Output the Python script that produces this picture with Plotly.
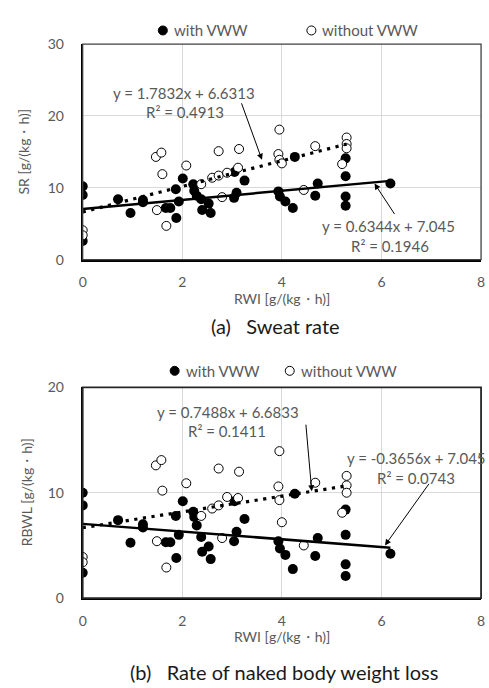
import plotly.graph_objects as go

# RWI of each trial, shared by both panels
rwi_with = [0, 0, 0, 0.71, 0.96, 1.21, 1.21, 1.67, 1.76, 1.88, 1.87, 1.93, 2.01, 2.22, 2.24,
            2.29, 2.38, 2.40, 2.53, 2.57, 3.09, 3.04, 3.25, 3.05, 3.93, 3.96, 4.07, 4.22,
            4.26, 4.72, 4.67, 5.28, 5.28, 5.28, 5.28, 6.18]
rwi_without = [0, 0, 1.47, 1.58, 1.60, 2.08, 1.49, 1.68, 2.38, 2.73, 3.14, 2.80, 2.60, 2.73,
               2.90, 3.12, 3.95, 3.93, 3.95, 4.00, 4.67, 5.30, 5.30, 5.30, 5.21, 4.44]

# (a) sweat rate
sr_with = [10.2, 9.0, 2.6, 8.4, 6.5, 8.3, 8.0, 7.2, 7.2, 5.8, 9.8, 8.1, 11.3, 10.5, 9.6,
           8.9, 8.4, 6.9, 7.8, 6.5, 9.3, 8.6, 11.0, 12.2, 9.5, 8.8, 8.1, 7.2,
           14.3, 10.6, 8.9, 14.1, 11.6, 8.8, 7.5, 10.6]
sr_without = [4.1, 3.4, 14.3, 14.9, 11.9, 13.1, 6.9, 4.7, 10.5, 15.1, 15.4, 8.7, 11.4, 11.7,
              12.1, 12.8, 18.1, 14.7, 13.9, 13.4, 15.8, 17.0, 16.1, 15.5, 13.3, 9.7]

# (b) rate of naked body weight loss
rbwl_with = [10.0, 8.8, 2.4, 7.4, 5.25, 7.0, 6.7, 5.3, 5.3, 3.8, 7.8, 6.0, 9.2, 8.2, 7.7,
             6.9, 5.8, 4.4, 4.9, 3.7, 6.3, 5.4, 7.5, 9.2, 5.4, 4.7, 4.1, 2.75,
             9.9, 5.7, 4.0, 8.4, 6.0, 3.2, 2.1, 4.2]
rbwl_without = [3.9, 3.4, 12.6, 13.1, 10.2, 10.9, 5.4, 2.9, 7.8, 12.3, 12.0, 5.7, 8.5, 8.8,
                9.6, 9.5, 13.95, 10.6, 9.3, 7.2, 10.95, 11.6, 10.7, 10.0, 8.1, 5.0]

# linear trendlines (slope, intercept, R²)
fit_sr_with = (0.6344, 7.045, 0.1946)
fit_sr_without = (1.7832, 6.6313, 0.4913)
fit_rbwl_with = (-0.3656, 7.045, 0.0743)
fit_rbwl_without = (0.7488, 6.6833, 0.1411)

x_ticks = [0, 2, 4, 6, 8]
y_ticks_a = [0, 10, 20, 30]
y_ticks_b = [0, 10, 20]

W, H = 489, 688
FONT = "Lato, 'Open Sans', sans-serif"
GREY = "#595959"


def px(x):
    return x / W


def py(y):
    return 1 - y / H


def eq_text(m, b):
    return f"y = {m}x + {b}"


fig = go.Figure()


def add_panel(xa, ya, ys_with, ys_without, fit_with, fit_without):
    fig.add_trace(go.Scatter(x=rwi_with, y=ys_with, mode="markers", xaxis=xa, yaxis=ya,
                             marker=dict(size=10, color="black", line=dict(width=0)),
                             showlegend=False))
    fig.add_trace(go.Scatter(x=rwi_without, y=ys_without, mode="markers", xaxis=xa, yaxis=ya,
                             marker=dict(size=9, color="white", line=dict(width=1, color="black")),
                             showlegend=False))
    m, b, _ = fit_without
    xs = [min(rwi_without), max(rwi_without)]
    fig.add_trace(go.Scatter(x=xs, y=[m * v + b for v in xs], mode="lines", xaxis=xa, yaxis=ya,
                             line=dict(color="black", width=3.2, dash="3.2px,5.5px"),
                             showlegend=False))
    m, b, _ = fit_with
    xs = [min(rwi_with), max(rwi_with)]
    fig.add_trace(go.Scatter(x=xs, y=[m * v + b for v in xs], mode="lines", xaxis=xa, yaxis=ya,
                             line=dict(color="black", width=2.5),
                             showlegend=False))


add_panel("x", "y", sr_with, sr_without, fit_sr_with, fit_sr_without)
add_panel("x2", "y2", rbwl_with, rbwl_without, fit_rbwl_with, fit_rbwl_without)

x_dom = [px(80), px(485)]
axis_common = dict(showgrid=True, gridcolor="#d9d9d9", gridwidth=1, zeroline=False,
                   showline=True, linecolor="black", linewidth=2, ticks="",
                   tickfont=dict(family=FONT, size=14, color=GREY))

fig.update_layout(
    width=W, height=H, margin=dict(l=0, r=0, t=0, b=0),
    paper_bgcolor="white", plot_bgcolor="white",
    xaxis=dict(domain=x_dom, range=[0, 8], tickvals=x_ticks, anchor="y",
               ticklabelstandoff=9, ticklabeloverflow="allow", **axis_common),
    yaxis=dict(domain=[py(257), py(36)], range=[0, 30], tickvals=y_ticks_a, anchor="x",
               ticklabelstandoff=14, **axis_common),
    xaxis2=dict(domain=x_dom, range=[0, 8], tickvals=x_ticks, anchor="y2",
                ticklabelstandoff=9, ticklabeloverflow="allow", **axis_common),
    yaxis2=dict(domain=[py(604), py(388)], range=[0, 20], tickvals=y_ticks_b, anchor="x2",
                ticklabelstandoff=14, **axis_common),
)

# plot frames
fig.add_shape(type="rect", xref="x domain", yref="y domain", x0=0, x1=1, y0=0, y1=1,
              line=dict(color="#404040", width=1.3), layer="above")
fig.add_shape(type="rect", xref="x2 domain", yref="y2 domain", x0=0, x1=1, y0=0, y1=1,
              line=dict(color="#262626", width=1.8), layer="above")

ann = []


def text(x, y, s, size=15, color=GREY, xanchor="center", angle=0):
    ann.append(dict(x=px(x), y=py(y), xref="paper", yref="paper", text=s, showarrow=False,
                    xanchor=xanchor, yanchor="middle", textangle=angle,
                    font=dict(family=FONT, size=size, color=color)))


def arrow(xa, ya, x, y, ax, ay):
    ann.append(dict(x=x, y=y, xref=xa, yref=ya, ax=ax, ay=ay, axref="pixel", ayref="pixel",
                    text="", showarrow=True, arrowhead=2, arrowsize=1.2, arrowwidth=1,
                    arrowcolor="black"))


def legend_entry(cx, cy, label, filled):
    fig.add_shape(type="circle", xref="paper", yref="paper", xsizemode="pixel",
                  ysizemode="pixel", xanchor=px(cx), yanchor=py(cy),
                  x0=-4.5, x1=4.5, y0=-4.5, y1=4.5,
                  fillcolor="black" if filled else "white",
                  line=dict(color="black", width=1))
    text(cx + 9, cy, label, size=15, xanchor="left")


# panel (a)
legend_entry(161.5, 22, "with VWW", True)
legend_entry(312.5, 22, "without VWW", False)
m, b, r2 = fit_sr_without
text(183, 86, eq_text(m, b))
text(184, 106, f"R² = {r2}")
arrow("x", "y", 3.60, 13.9, -21, -58)
m, b, r2 = fit_sr_with
text(391, 223, eq_text(m, b))
text(392, 243, f"R² = {r2}")
arrow("x", "y", 5.86, 10.6, 21, 32)
text(282.5, 297, "RWI [g/(kg・h)]", size=14)
text(20, 146.5, "SR [g/(kg・h)]", size=14, angle=-90)
text(276, 325, "(a)   Sweat rate", size=20, color="#1a1a1a")

# panel (b)
legend_entry(173.5, 371, "with VWW", True)
legend_entry(290.5, 371, "without VWW", False)
m, b, r2 = fit_rbwl_without
text(227.5, 413, eq_text(m, b))
text(227, 433, f"R² = {r2}")
arrow("x2", "y2", 4.60, 10.15, -6, -68)
m, b, r2 = fit_rbwl_with
text(419, 460, f"y = {m}x + {b}")
text(418.5, 481, f"R² = {r2}")
arrow("x2", "y2", 6.07, 5.0, 45, -63)
text(282.5, 643, "RWI [g/(kg・h)]", size=14)
text(23, 496, "RBWL [g/(kg・h)]", size=14, angle=-90)
text(284.5, 680, "(b)   Rate of naked body weight loss", size=20, color="#1a1a1a")

fig.update_layout(annotations=ann)
fig.write_html("out.html")
